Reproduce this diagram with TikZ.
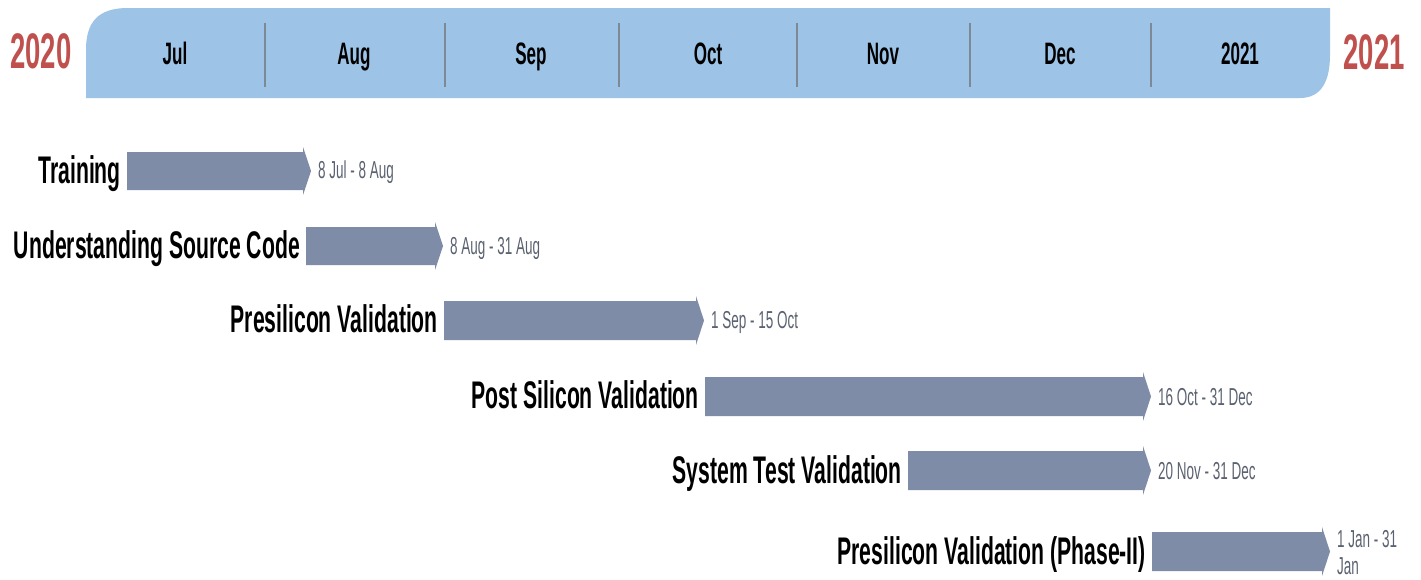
\documentclass[tikz,border=0pt]{standalone}
\usepackage{fontspec}
\setmainfont[FakeStretch=0.55]{Liberation Sans}
\usetikzlibrary{calc}
\definecolor{bandblue}{RGB}{157,195,230}
\definecolor{divgray}{RGB}{125,138,150}
\definecolor{barslate}{RGB}{127,140,168}
\definecolor{yearred}{RGB}{192,80,77}
\definecolor{dategray}{RGB}{90,97,112}
\newcommand\gbar[5]{%
  \fill[barslate] (#2,#4) -- ({#3-8},#4) -- ({#3-8},{#4-5}) -- (#3,{(#4+#5)/2}) -- ({#3-8},{#5+5}) -- ({#3-8},#5) -- (#2,#5) -- cycle;
  \coordinate (#1-w) at (#2,{(#4+#5)/2});
  \coordinate (#1-e) at (#3,{(#4+#5)/2});
}
\begin{document}
\begin{tikzpicture}[x=1pt,y=-1pt,
  month/.style={inner sep=0pt, anchor=base, font=\fontsize{31}{31}\selectfont\bfseries},
  year/.style={inner sep=0pt, anchor=base, text=yearred, font=\fontsize{50}{50}\selectfont\bfseries},
  task/.style={inner sep=0pt, anchor=base east, font=\fontsize{38.5}{38.5}\selectfont\bfseries},
  datelbl/.style={inner sep=0pt, anchor=base west, text=dategray, font=\fontsize{24.5}{27}\selectfont},
  divider/.style={draw=divgray, line width=1.2pt}]
\useasboundingbox (0,0) rectangle (1421,579);
\fill[white] (0,0) rectangle (1421,579);
% header band
\fill[bandblue] (86,98) -- (86,50) .. controls (86,22) and (98,8) .. (128,8) -- (1330,8) -- (1330,55) .. controls (1330,80) and (1322,98) .. (1300,98) -- cycle;
\foreach \x/\n in {265/d1,445/d2,619/d3,797/d4,970/d5,1151/d6} {
  \coordinate (\n-t) at (\x,23);
  \coordinate (\n-b) at (\x,87);
  \draw[divider] (\n-t) -- (\n-b);
}
\node[month] (mjul) at (175,64) {Jul};
\node[month] (maug) at (354,64) {Aug};
\node[month] (msep) at (531,64) {Sep};
\node[month] (moct) at (708,64) {Oct};
\node[month] (mnov) at (883,64) {Nov};
\node[month] (mdec) at (1060,64) {Dec};
\node[month] (m2021) at (1240,64) {2021};
\node[year] (y2020) at (41,68) {2020};
\node[year] (y2021) at (1374,69) {2021};
% bars
\gbar{train}{127}{311}{152}{190}
\gbar{usc}{306}{443}{227}{265}
\gbar{pre}{444}{704}{301}{340}
\gbar{post}{705}{1151}{377}{416}
\gbar{sys}{908}{1151}{451}{490}
\gbar{ph}{1152}{1330}{532}{571}
% task labels
\node[task] (ltrain) at ($(train-w)+(-6,12)$) {Training};
\node[task] (lusc) at ($(usc-w)+(-6,12)$) {Understanding Source Code};
\node[task] (lpre) at ($(pre-w)+(-6,12)$) {Presilicon Validation};
\node[task] (lpost) at ($(post-w)+(-6,12)$) {Post Silicon Validation};
\node[task] (lsys) at ($(sys-w)+(-6,13)$) {System Test Validation};
\node[task] (lph) at ($(ph-w)+(-6,13)$) {Presilicon Validation (Phase-II)};
% date labels
\node[datelbl] (dtrain) at ($(train-e)+(7,7)$) {8 Jul - 8 Aug};
\node[datelbl] (dusc) at ($(usc-e)+(7,8)$) {8 Aug - 31 Aug};
\node[datelbl] (dpre) at ($(pre-e)+(7,8)$) {1 Sep - 15 Oct};
\node[datelbl] (dpost) at ($(post-e)+(7,8.5)$) {16 Oct - 31 Dec};
\node[datelbl] (dsys) at ($(sys-e)+(7,8.5)$) {20 Nov - 31 Dec};
\node[datelbl, anchor=north west, align=left] (dph) at ($(ph-e)+(7,-21)$) {1 Jan - 31\\Jan};
\end{tikzpicture}
\end{document}
